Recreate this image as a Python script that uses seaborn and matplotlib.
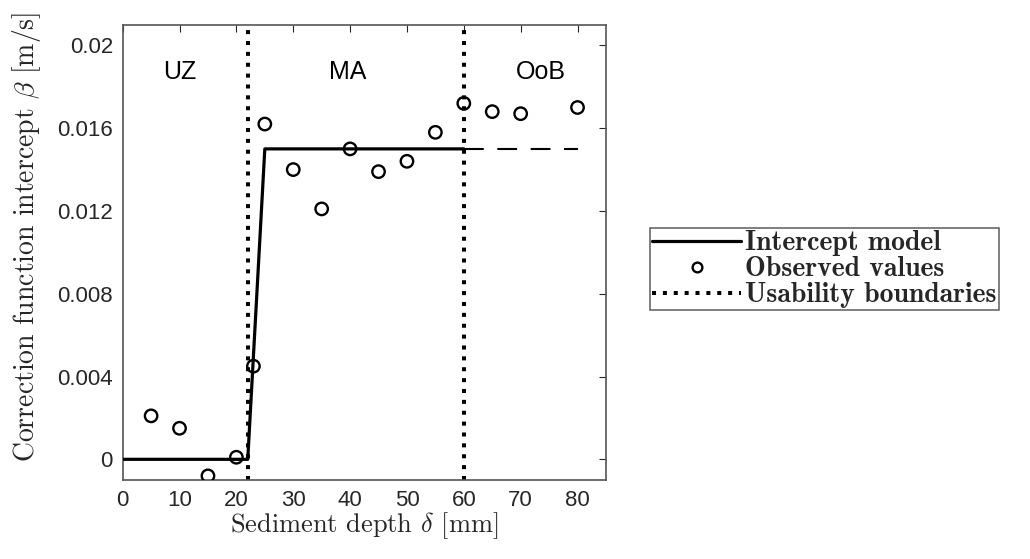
import numpy as np
import pandas as pd
import matplotlib
matplotlib.use("Agg")
import matplotlib.pyplot as plt
import seaborn as sns
from matplotlib.lines import Line2D

# ---- data ----
obs_depth = [5, 10, 15, 20, 23, 25, 30, 35, 40, 45, 50, 55, 60, 65, 70, 80]
obs_beta = [0.0021, 0.0015, -0.0008, 0.0001, 0.0045, 0.0162, 0.0140, 0.0121,
            0.0150, 0.0139, 0.0144, 0.0158, 0.0172, 0.0168, 0.0167, 0.0170]
model_depth = [0, 22, 25, 60]
model_beta = [0, 0, 0.015, 0.015]
ext_depth = [60, 80]
ext_beta = [0.015, 0.015]
boundaries = [22, 60]
zone_labels = ["UZ", "MA", "OoB"]
zone_x = [10, 39.5, 73.5]
zone_y = [0.0187, 0.0187, 0.0187]
x_ticks = [0, 10, 20, 30, 40, 50, 60, 70, 80]
y_ticks = [0, 0.004, 0.008, 0.012, 0.016, 0.02]
y_ticklabels = ["0", "0.004", "0.008", "0.012", "0.016", "0.02"]

sns.set_theme(style="white")
plt.rcParams["mathtext.fontset"] = "cm"
plt.rcParams["font.family"] = ["Liberation Sans", "DejaVu Sans"]

fig = plt.figure(figsize=(10.30, 5.59), dpi=100)
ax = fig.add_axes([0.1191, 0.1413, 0.4692, 0.8145])

axcol = "#262626"
df_obs = pd.DataFrame({"d": obs_depth, "b": obs_beta})
df_mod = pd.DataFrame({"d": model_depth, "b": model_beta})
df_ext = pd.DataFrame({"d": ext_depth, "b": ext_beta})

for xb in boundaries:
    ax.axvline(xb, color="black", lw=2.9, linestyle=(0, (1, 1.7)), zorder=2)

sns.lineplot(data=df_mod, x="d", y="b", ax=ax, color="black", lw=2.3,
             sort=False, estimator=None, zorder=3)
sns.lineplot(data=df_ext, x="d", y="b", ax=ax, color="black", lw=1.5,
             sort=False, estimator=None, zorder=3, dashes=False)
ax.lines[-1].set_dashes((9.5, 6.5))
sns.scatterplot(data=df_obs, x="d", y="b", ax=ax, marker="o", s=80,
                facecolor="none", edgecolor="black", linewidth=1.7, zorder=4)

for lab, xx, yy in zip(zone_labels, zone_x, zone_y):
    ax.text(xx, yy, lab, ha="center", va="center", fontsize=18, color="black")

ax.set_xlim(0, 85)
ax.set_ylim(-0.001, 0.021)
ax.set_xticks(x_ticks)
ax.set_yticks(y_ticks)
ax.set_yticklabels(y_ticklabels)
ax.tick_params(direction="in", length=5, width=0.8, colors=axcol,
               labelsize=16, top=True, right=True, pad=7)
for sp in ax.spines.values():
    sp.set_visible(True)
    sp.set_color("#555555")
    sp.set_linewidth(1.2)

ax.set_xlabel(r"Sediment depth $\delta$ [mm]", family="cmr10", fontsize=19,
              color=axcol, labelpad=0)
ax.set_ylabel(r"Correction function intercept $\beta$ [m/s]", family="cmr10",
              fontsize=20, color=axcol)
ax.yaxis.set_label_coords(-0.165, 0.534)

handles = [
    Line2D([], [], color="black", lw=2.3),
    Line2D([], [], color="black", lw=0, marker="o", markersize=7,
           markerfacecolor="none", markeredgewidth=1.7),
    Line2D([], [], color="black", lw=2.9, linestyle=(0, (1, 1.7))),
]
labels = ["Intercept model", "Observed values", "Usability boundaries"]
leg = fig.legend(handles, labels, loc="upper left",
                 bbox_to_anchor=(650 / 1030, 1 - 228 / 559),
                 prop={"family": "cmb10", "size": 20}, frameon=True,
                 fancybox=False, edgecolor="#444444", handlelength=3.2,
                 handletextpad=0.15, borderpad=0.08, labelspacing=0.0,
                 borderaxespad=0)
leg.get_frame().set_linewidth(1.2)

fig.savefig("out.png", dpi=100)
